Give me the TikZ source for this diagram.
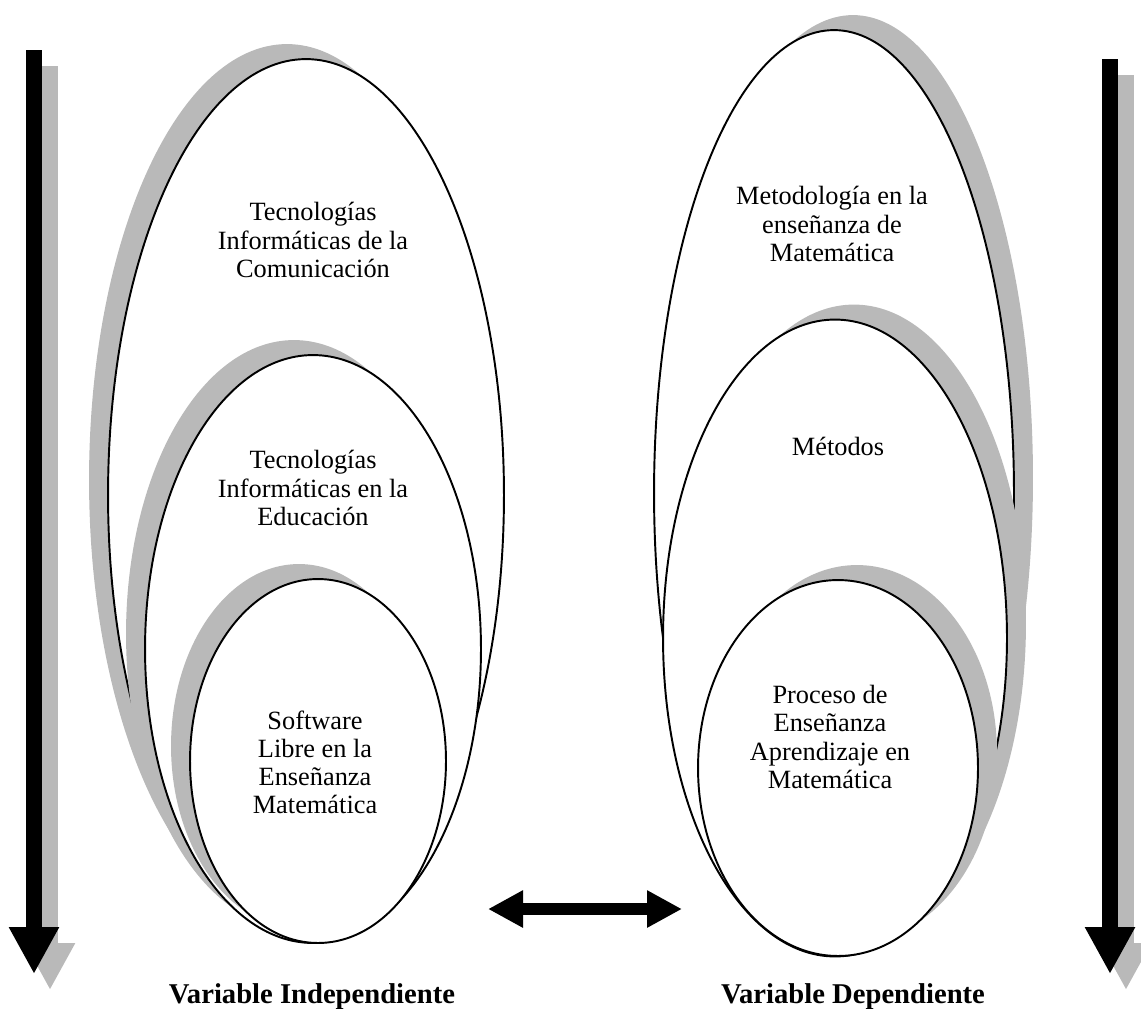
\documentclass[tikz,border=0pt]{standalone}
\usepackage{fontspec}
\setmainfont{Liberation Serif}
\usetikzlibrary{positioning,shapes.geometric,shadows,arrows.meta}

\tikzset{
  ovalo/.style={draw, ellipse, fill=white, line width=1.1pt, inner sep=0pt},
  sombraizq/.style={drop shadow={shadow xshift=-0.38cm, shadow yshift=0.3cm, fill=gray!55, opacity=1}},
  sombrader/.style={drop shadow={shadow xshift=0.38cm, shadow yshift=0.3cm, fill=gray!55, opacity=1}},
  texto/.style={align=center, font=\fontsize{15}{16}\selectfont},
  etiqueta/.style={anchor=base, font=\fontsize{16.3}{18}\selectfont\bfseries},
  flecha/.style={line width=0.32cm, -{Triangle[width=0.94cm,length=0.94cm]}},
}

\begin{document}
\begin{tikzpicture}[x=0.02cm, y=-0.02cm]
  \useasboundingbox (0,0) rectangle (1141,1008);

  % flechas verticales
  \coordinate (izqA) at (34,50);    \coordinate (izqB) at (34,974);
  \coordinate (derA) at (1110,59);  \coordinate (derB) at (1110,974);
  \draw[flecha, gray!55] ([shift={(16,16)}]izqA) -- ([shift={(16,16)}]izqB);
  \draw[flecha] (izqA) -- (izqB);
  \draw[flecha, gray!55] ([shift={(16,16)}]derA) -- ([shift={(16,16)}]derB);
  \draw[flecha] (derA) -- (derB);

  % variable independiente
  \node[ovalo, sombraizq, minimum width=7.92cm, minimum height=17.44cm] (tic) at (306,495) {};
  \node[ovalo, sombraizq, minimum width=6.72cm, minimum height=11.76cm] (tie) at (313,649) {};
  \node[ovalo, sombraizq, minimum width=5.12cm, minimum height=7.28cm] (sl) at (318,761) {};

  \node[texto] (tictxt) at (313,240) {Tecnologías\\Informáticas de la\\Comunicación};
  \node[texto] (tietxt) at (313,488) {Tecnologías\\Informáticas en la\\Educación};
  \node[texto] (sltxt) at (315,762) {Software\\Libre en la\\Enseñanza\\Matemática};

  % variable dependiente
  \node[ovalo, sombrader, minimum width=7.2cm, minimum height=18.52cm] (met) at (834,493) {};
  \node[ovalo, sombrader, minimum width=6.88cm, minimum height=12.74cm] (mtd) at (835,638) {};
  \node[ovalo, sombrader, minimum width=5.6cm, minimum height=7.52cm] (pea) at (838,768) {};

  \node[texto] (mettxt) at (832,224) {Metodología en la\\enseñanza de\\Matemática};
  \node[texto] (mtdtxt) at (838,446) {Métodos};
  \node[texto] (peatxt) at (830,737) {Proceso de\\Enseñanza\\Aprendizaje en\\Matemática};

  % relacion
  \coordinate (relA) at (488,909); \coordinate (relB) at (682,909);
  \draw[line width=0.24cm, {Triangle[width=0.7cm,length=0.7cm]}-{Triangle[width=0.7cm,length=0.7cm]}] (relA) -- (relB);

  \node[etiqueta] (vi) at (312,1003) {Variable Independiente};
  \node[etiqueta] (vd) at (853,1003) {Variable Dependiente};
\end{tikzpicture}
\end{document}
